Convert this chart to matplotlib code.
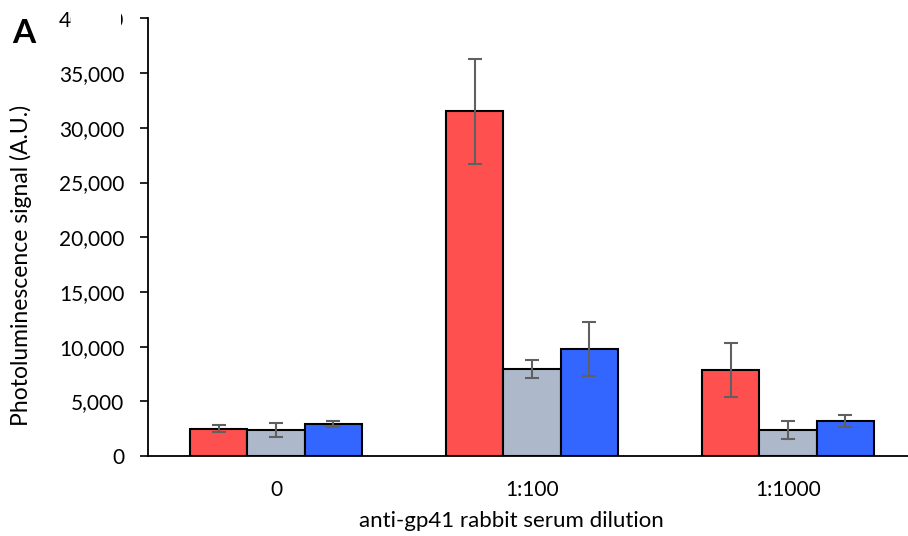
import numpy as np
import matplotlib.pyplot as plt
from matplotlib.patches import Rectangle

categories = ["0", "1:100", "1:1000"]
red_vals = [2500, 31500, 7850]
red_err = [350, 4800, 2470]
grey_vals = [2380, 7950, 2380]
grey_err = [600, 800, 840]
blue_vals = [2950, 9800, 3200]
blue_err = [290, 2470, 550]
yticks = [0, 5000, 10000, 15000, 20000, 25000, 30000, 35000, 40000]

plt.rcParams['font.family'] = ['Lato', 'DejaVu Sans']

fig = plt.figure(figsize=(9.08, 5.36), dpi=100)
ax = fig.add_axes([148 / 908, (536 - 456) / 536, 768 / 908, 437.5 / 536])

x = np.arange(len(categories))
w = 0.223
series = [(red_vals, red_err, '#FF5050', -w),
          (grey_vals, grey_err, '#ADB9CA', 0),
          (blue_vals, blue_err, '#3366FF', w)]
for vals, err, color, off in series:
    ax.bar(x + off, vals, w, color=color, edgecolor='black', linewidth=1.5, zorder=2)
    ax.errorbar(x + off, vals, yerr=err, fmt='none', ecolor='#606060',
                elinewidth=1.5, capsize=5, capthick=1.5, zorder=3)

ax.set_xlim(-0.5, 2.5)
ax.set_ylim(0, 40000)
ax.set_yticks(yticks)
ax.set_yticklabels([f"{v:,}" for v in yticks])
ax.set_xticks(x)
ax.set_xticklabels(categories)
ax.tick_params(axis='x', length=0, pad=17, labelsize=15)
ax.tick_params(axis='y', length=6, width=1.2, pad=11, labelsize=15)
ax.spines['top'].set_visible(False)
ax.spines['right'].set_visible(False)
ax.spines['left'].set_linewidth(1.3)
ax.spines['bottom'].set_linewidth(1.3)
ax.set_xlabel("anti-gp41 rabbit serum dilution", fontsize=16)
ax.set_ylabel("Photoluminescence signal (A.U.)", fontsize=16.5)
ax.xaxis.set_label_coords((511 - 148) / 768, (456 - 511) / 437.5)
ax.yaxis.set_label_coords((32 - 148) / 768, (456 - 265) / 437.5)

fig.text(12 / 908, 1 - 43 / 536, "A", fontsize=24, fontweight='bold')
# white patch hiding part of the top tick label, as in the source image
fig.patches.append(Rectangle((71 / 908, 1 - 34 / 536), 50 / 908, 30 / 536,
                             transform=fig.transFigure, facecolor='white',
                             edgecolor='none', zorder=10))

fig.savefig("out.png", dpi=100)
